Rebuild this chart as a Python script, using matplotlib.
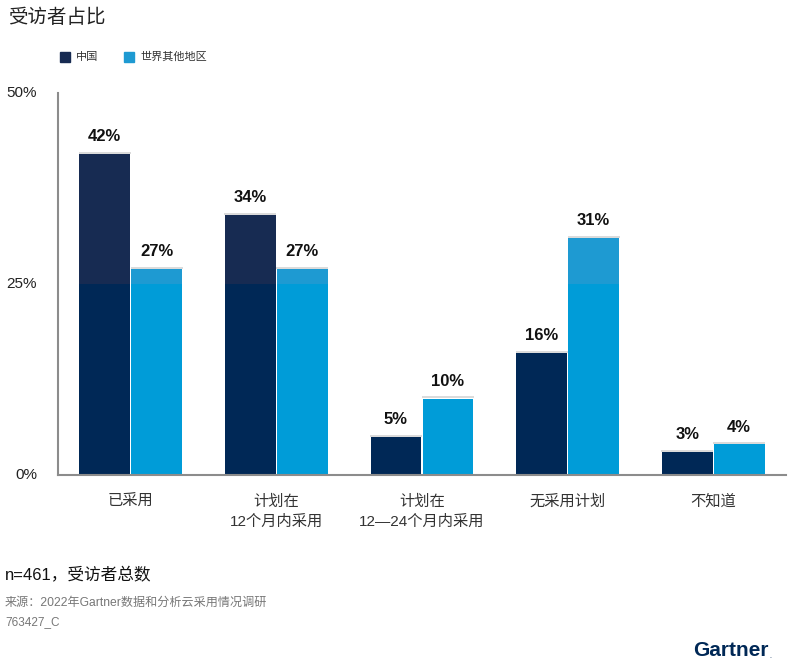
import matplotlib.pyplot as plt
import numpy as np

plt.rcParams['font.family'] = ['Liberation Sans', 'Noto Sans CJK SC', 'DejaVu Sans']

categories = ['已采用', '计划在\n12个月内采用', '计划在\n12—24个月内采用', '无采用计划', '不知道']
china = [42, 34, 5, 16, 3]
world = [27, 27, 10, 31, 4]
series_names = ['中国', '世界其他地区']
yticks = [0, 25, 50]
ytick_labels = ['0%', '25%', '50%']

dark_low, dark_high = '#002856', '#172B52'
light_low, light_high = '#009CD8', '#1E9AD2'

fig = plt.figure(figsize=(7.93, 6.68), dpi=100)
ax = fig.add_axes([58 / 793, 193 / 668, 728 / 793, 382 / 668])

x = np.arange(len(categories))
w = 0.357
gap = 0.004

for vals, off, c_low, c_high in [(china, -w / 2, dark_low, dark_high),
                                 (world, w / 2, light_low, light_high)]:
    vals = np.array(vals)
    ax.bar(x + off, vals, width=w - gap * 2, color=c_high, linewidth=0)
    ax.bar(x + off, np.minimum(vals, 25), width=w - gap * 2, color=c_low, linewidth=0)
    ax.hlines(vals + 0.15, x + off - w / 2, x + off + w / 2, color='#d4d4d4', linewidth=1.2)
    for xi, v in zip(x + off, vals):
        ax.text(xi, v + 1.3, f'{v}%', ha='center', va='bottom', fontsize=12,
                fontweight='bold', color='#111111')

ax.set_xlim(-0.5, 4.5)
ax.set_ylim(0, 50)
ax.set_yticks(yticks)
ax.set_yticklabels(ytick_labels, fontsize=11, color='#222222')
ax.set_xticks(x)
ax.set_xticklabels(categories, fontsize=11, color='#333333', linespacing=1.5, va='top')
ax.tick_params(axis='both', length=0)
ax.tick_params(axis='x', pad=14)
ax.tick_params(axis='y', pad=15)
for lab in ax.get_yticklabels():
    lab.set_va('center')
for s in ['top', 'right']:
    ax.spines[s].set_visible(False)
for s in ['left', 'bottom']:
    ax.spines[s].set_color('#8c8c8c')
    ax.spines[s].set_linewidth(1.5)

# title and legend
fig.text(8 / 793, 1 - 18 / 668, '受访者占比', fontsize=14, va='center', ha='left', color='#222222')
fig.patches.append(plt.Rectangle((60 / 793, 1 - 62 / 668), 10 / 793, 10 / 668,
                                 transform=fig.transFigure, color=dark_high))
fig.text(76 / 793, 1 - 57 / 668, series_names[0], fontsize=8, va='center', color='#333333')
fig.patches.append(plt.Rectangle((124 / 793, 1 - 62 / 668), 10 / 793, 10 / 668,
                                 transform=fig.transFigure, color=light_high))
fig.text(140 / 793, 1 - 57 / 668, series_names[1], fontsize=8, va='center', color='#333333')

# footnotes
fig.text(5 / 793, 1 - 575 / 668, 'n=461，受访者总数', fontsize=12, va='center', color='#111111')
fig.text(5 / 793, 1 - 603 / 668, '来源：2022年Gartner数据和分析云采用情况调研', fontsize=8.7,
         va='center', color='#777777')
fig.text(5 / 793, 1 - 622 / 668, '763427_C', fontsize=8.5, va='center', color='#777777')
fig.text(769 / 793, 1 - 651 / 668, 'Gartner', fontsize=15, fontweight='bold', ha='right',
         va='center', color='#002856')
fig.text(769 / 793, 1 - 656 / 668, '.', fontsize=5, ha='left', va='center', color='#002856')

fig.savefig('out.png', dpi=100)
